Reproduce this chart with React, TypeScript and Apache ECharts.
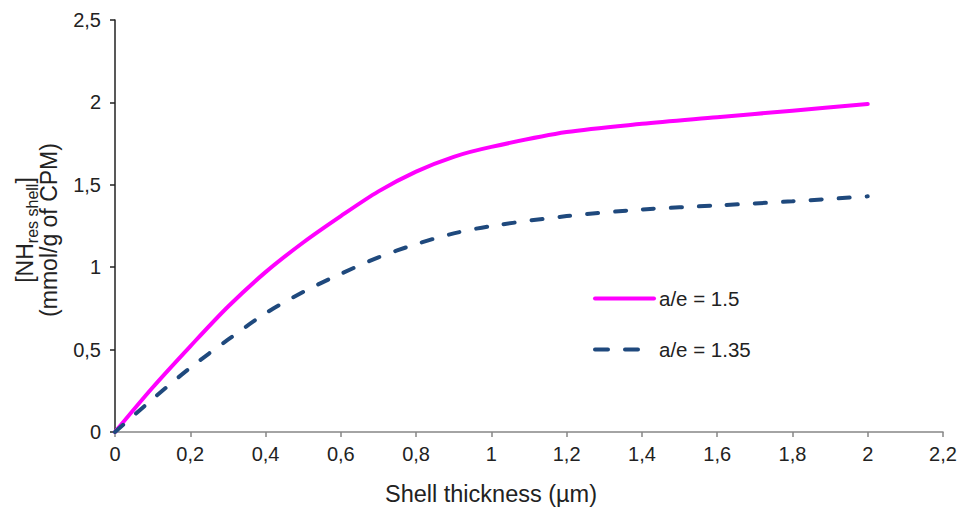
import React, { useEffect, useRef } from "react";
import * as echarts from "echarts";

const xValues = [0, 0.1, 0.2, 0.3, 0.4, 0.5, 0.6, 0.7, 0.8, 0.9, 1.0, 1.2, 1.4, 1.6, 1.8, 2.0];
const series15 = [0, 0.27, 0.52, 0.76, 0.97, 1.15, 1.31, 1.46, 1.58, 1.67, 1.73, 1.82, 1.87, 1.91, 1.95, 1.99];
const series135 = [0, 0.2, 0.39, 0.56, 0.72, 0.85, 0.96, 1.06, 1.14, 1.205, 1.25, 1.31, 1.35, 1.375, 1.4, 1.43];
const seriesNames = ["a/e = 1.5", "a/e = 1.35"];
const xTitle = "Shell thickness (µm)";
const yTitleLine1 = ["[NH", "res shell", "]"];
const yTitleLine2 = "(mmol/g of CPM)";

const FONT = "'Liberation Sans', Arial, sans-serif";
const fmt = (v: number) => String(Math.round(v * 100) / 100).replace(".", ",");

export default function App() {
  const ref = useRef<HTMLDivElement>(null);
  useEffect(() => {
    if (!ref.current) return;
    const chart = echarts.init(ref.current, undefined, { renderer: "svg" });
    chart.setOption({
      animation: false,
      backgroundColor: "#ffffff",
      textStyle: { fontFamily: FONT },
      grid: { left: 115, right: 17, top: 20, bottom: 75, containLabel: false },
      legend: {
        orient: "vertical",
        left: 593,
        top: 288,
        padding: 0,
        itemWidth: 59,
        itemHeight: 20,
        itemGap: 30,
        itemStyle: { opacity: 0 },
        textStyle: { fontFamily: FONT, fontSize: 20.5, color: "#222", lineHeight: 20 },
        data: [
          { name: seriesNames[0], lineStyle: { color: "#FF00FF", width: 4, type: "solid" } },
          { name: seriesNames[1], lineStyle: { color: "#1F497D", width: 4, type: [13, 17], cap: "round" } },
        ],
      },
      xAxis: {
        type: "value",
        min: 0,
        max: 2.2,
        interval: 0.2,
        axisLine: { show: true, lineStyle: { color: "#868686", width: 1.5 } },
        axisTick: { show: true, inside: false, length: 5, lineStyle: { color: "#868686", width: 1.5 } },
        splitLine: { show: false },
        axisLabel: { formatter: fmt, fontSize: 20, color: "#222", fontFamily: FONT, margin: 12 },
      },
      yAxis: {
        type: "value",
        min: 0,
        max: 2.5,
        interval: 0.5,
        axisLine: { show: true, lineStyle: { color: "#222", width: 1.5 } },
        axisTick: { show: true, inside: false, length: 5, lineStyle: { color: "#222", width: 1.5 } },
        splitLine: { show: false },
        axisLabel: { formatter: fmt, fontSize: 20, color: "#222", fontFamily: FONT, margin: 14 },
      },
      graphic: [
        {
          type: "text",
          x: 491,
          y: 494,
          style: {
            text: xTitle,
            font: `23.5px ${FONT}`,
            fill: "#222",
            textAlign: "center",
            textVerticalAlign: "middle",
          },
        },
        {
          type: "text",
          x: 25,
          y: 230,
          rotation: Math.PI / 2,
          style: {
            text: `{a|${yTitleLine1[0]}}{s|${yTitleLine1[1]}}{a|${yTitleLine1[2]}}`,
            fill: "#222",
            textAlign: "center",
            textVerticalAlign: "middle",
            rich: {
              a: { fontSize: 23, fontFamily: FONT, lineHeight: 31, fill: "#222" },
              s: { fontSize: 16, fontFamily: FONT, lineHeight: 16, verticalAlign: "bottom", fill: "#222" },
            },
          },
        },
        {
          type: "text",
          x: 49,
          y: 230,
          rotation: Math.PI / 2,
          style: {
            text: yTitleLine2,
            font: `23px ${FONT}`,
            fill: "#222",
            textAlign: "center",
            textVerticalAlign: "middle",
          },
        },
      ],
      series: [
        {
          name: seriesNames[0],
          type: "line",
          smooth: 0.3,
          symbol: "none",
          color: "#FF00FF",
          lineStyle: { color: "#FF00FF", width: 4, cap: "round" },
          data: xValues.map((x, i) => [x, series15[i]]),
        },
        {
          name: seriesNames[1],
          type: "line",
          smooth: 0.3,
          symbol: "none",
          color: "#1F497D",
          lineStyle: { color: "#1F497D", width: 4, type: [11, 17], cap: "round" },
          data: xValues.map((x, i) => [x, series135[i]]),
        },
      ],
    });
    return () => chart.dispose();
  }, []);
  return (
    <div
      ref={ref}
      style={{ position: "fixed", left: 0, top: 0, width: 960, height: 507, background: "#fff" }}
    />
  );
}
